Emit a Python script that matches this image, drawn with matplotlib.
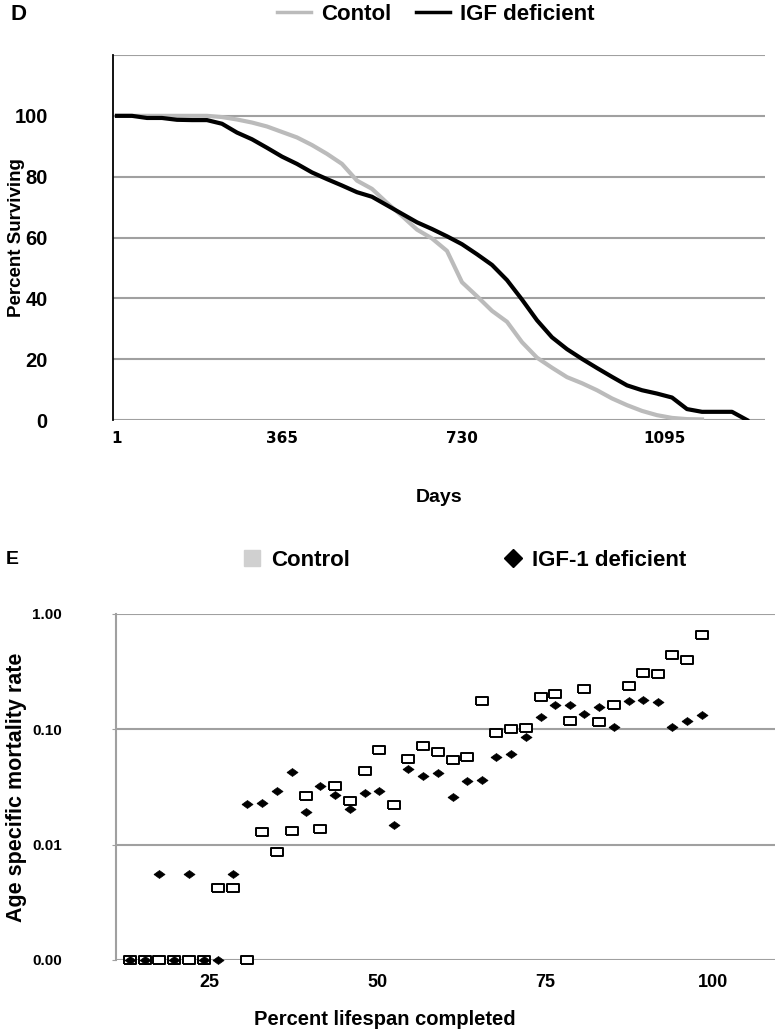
import numpy as np
import matplotlib
matplotlib.use('Agg')
import matplotlib.pyplot as plt
from matplotlib.lines import Line2D
from matplotlib.ticker import FixedLocator, NullLocator

plt.rcParams['font.family'] = ['Liberation Sans', 'DejaVu Sans']
plt.rcParams['font.weight'] = 'bold'
plt.rcParams['axes.labelweight'] = 'bold'

# panel D - survival, x is the position on Excel's category (days) axis
igf_pos = np.arange(0, 86, 2)
igf_surv = [100, 100, 99.3, 99.3, 98.7, 98.6, 98.6, 97.4, 94.5, 92.3, 89.5,
            86.6, 84.2, 81.4, 79.2, 77.1, 74.9, 73.4, 70.6, 67.8, 65.0, 62.8,
            60.4, 57.8, 54.5, 51.0, 46.0, 39.6, 32.8, 27.2, 23.3, 20.1, 17.1,
            14.2, 11.4, 9.8, 8.7, 7.4, 3.6, 2.7, 2.7, 2.7, 0]
ctrl_pos = np.arange(0, 80, 2)
ctrl_surv = [100, 100, 100, 100, 100, 100, 100, 99.6, 98.8, 97.8, 96.5, 94.7,
             92.9, 90.4, 87.5, 84.2, 78.7, 76.0, 71.4, 67.1, 62.6, 59.7, 55.6,
             45.3, 40.7, 35.9, 32.3, 25.6, 20.5, 17.2, 14.1, 12.1, 9.8, 7.1,
             4.9, 3.0, 1.6, 0.7, 0.3, 0.2]
day_ticks = [0, 22, 46, 73]
day_labels = ['1', '365', '730', '1095']

# panel E - age specific mortality (zeros drawn at 0.001 on the log axis)
pct = [13.1, 15.3, 17.5, 19.7, 21.9, 24.1, 26.2, 28.4, 30.6, 32.8, 35.0, 37.2,
       39.3, 41.5, 43.7, 45.9, 48.1, 50.2, 52.4, 54.6, 56.8, 59.0, 61.2, 63.3,
       65.5, 67.7, 69.9, 72.1, 74.3, 76.4, 78.6, 80.8, 83.0, 85.2, 87.4, 89.5,
       91.7, 93.9, 96.1, 98.3]
ctrl_rate = [0.001, 0.001, 0.001, 0.001, 0.001, 0.001, 0.0042, 0.0042, 0.001,
             0.0129, 0.0087, 0.0132, 0.0264, 0.0136, 0.0322, 0.0239, 0.0437,
             0.066, 0.0219, 0.0556, 0.0716, 0.0632, 0.0542, 0.0572, 0.175,
             0.0923, 0.101, 0.1026, 0.189, 0.204, 0.119, 0.224, 0.116, 0.164,
             0.238, 0.31, 0.302, 0.438, 0.397, 0.657]
igf_rate = [0.001, 0.001, 0.0056, 0.001, 0.0056, 0.001, 0.001, 0.0056, 0.0225,
            0.0231, 0.0294, 0.0424, 0.0191, 0.0322, 0.0268, 0.0205, 0.0282,
            0.029, 0.0149, 0.0453, 0.0394, 0.0414, 0.0257, 0.0354, 0.0365,
            0.0572, 0.0607, 0.0857, 0.1286, 0.1625, 0.162, 0.135, 0.155, 0.105,
            0.176, 0.178, 0.172, 0.105, 0.117, 0.133]
rate_ticks = [0.001, 0.01, 0.1, 1.0]
rate_labels = ['0.00', '0.01', '0.10', '1.00']
pct_ticks = [25, 50, 75, 100]

GRID = '#a0a0a0'
rect = [(-1.4, -1), (1.4, -1), (1.4, 1), (-1.4, 1), (-1.4, -1)]
diamond = [(-1.4, 0), (0, 1), (1.4, 0), (0, -1), (-1.4, 0)]

fig = plt.figure(figsize=(7.75, 10.3), dpi=100)

# ---- D ----
ax = fig.add_axes([0.1458, 0.5922, 0.8413, 0.3544])
ax.plot(ctrl_pos, ctrl_surv, color='#bbbbbb', lw=3.0, solid_joinstyle='round')
ax.plot(igf_pos, igf_surv, color='black', lw=3.0, solid_joinstyle='round')
ax.set_xlim(-0.53, 86.4)
ax.set_ylim(0, 120)
ax.yaxis.set_major_locator(FixedLocator([0, 20, 40, 60, 80, 100]))
ax.yaxis.set_minor_locator(FixedLocator([120]))
ax.grid(axis='y', which='both', color=GRID, lw=1.5)
ax.set_axisbelow(True)
for s in ['top', 'right', 'bottom']:
    ax.spines[s].set_visible(False)
ax.spines['left'].set_linewidth(1.3)
ax.tick_params(axis='y', length=0, pad=47, labelsize=14.5)
ax.tick_params(axis='y', which='minor', length=0)
ax.set_xticks(day_ticks)
ax.set_xticklabels(day_labels, fontfamily='DejaVu Sans', fontweight='bold', fontsize=11)
ax.tick_params(axis='x', length=0, pad=8)
ax.set_ylabel('Percent Surviving', fontsize=13.5)
ax.set_xlabel('Days', fontsize=14, labelpad=31)
ax.yaxis.set_label_coords(-0.135, 0.5)

fig.text(0.013, 0.986, 'D', fontsize=16, va='center')
hd = [Line2D([], [], color='#bbbbbb', lw=2.5), Line2D([], [], color='black', lw=2.5)]
fig.legend(hd, ['Contol', 'IGF deficient'], loc='center', bbox_to_anchor=(0.562, 0.986),
           ncol=2, frameon=False, handlelength=1.55, handletextpad=0.45,
           columnspacing=1.1, prop={'family': ['Liberation Sans Narrow', 'Liberation Sans'],
                                    'weight': 'bold', 'size': 16})

# ---- E ----
bx = fig.add_axes([0.1497, 0.0680, 0.8503, 0.3359])
bx.set_yscale('log')
bx.plot(pct, ctrl_rate, ls='none', marker=rect, ms=8, mfc='white', mec='black',
        mew=1.4, clip_on=False, zorder=3)
bx.plot(pct, igf_rate, ls='none', marker=diamond, ms=8, mfc='black', mec='black',
        mew=0.5, clip_on=False, zorder=4)
bx.set_xlim(11.05, 109.2)
bx.set_ylim(0.001, 1.0)
bx.yaxis.set_major_locator(FixedLocator(rate_ticks))
bx.yaxis.set_minor_locator(NullLocator())
bx.set_yticklabels(rate_labels)
bx.grid(axis='y', color=GRID, lw=1.5)
bx.set_axisbelow(True)
for s in ['top', 'right', 'bottom']:
    bx.spines[s].set_visible(False)
bx.spines['left'].set_color(GRID)
bx.spines['left'].set_linewidth(1.5)
bx.tick_params(axis='y', length=3, color=GRID, pad=36, labelsize=11)
bx.set_xticks(pct_ticks)
bx.tick_params(axis='x', length=0, pad=10, labelsize=13)
bx.set_xlabel('Percent lifespan completed', fontsize=14.5)
bx.xaxis.set_label_coords(0.408, -0.145)
bx.set_ylabel('Age specific mortality rate', fontsize=15.5,
              fontfamily=['Liberation Sans Narrow', 'Liberation Sans'])
bx.yaxis.set_label_coords(-0.135, 0.5)

fig.text(0.007, 0.4565, 'E', fontsize=14, va='center')
he = [Line2D([], [], ls='none', marker='s', ms=11, mfc='#d0d0d0', mec='#d0d0d0'),
      Line2D([], [], ls='none', marker='D', ms=9, mfc='black', mec='black')]
fig.legend(he, ['Control', 'IGF-1 deficient'], loc='center', bbox_to_anchor=(0.598, 0.4560),
           ncol=2, frameon=False, handlelength=1.0, handletextpad=0.35, columnspacing=6.85,
           prop={'family': 'Liberation Sans', 'weight': 'bold', 'size': 16})

fig.savefig('out.png', dpi=100)
